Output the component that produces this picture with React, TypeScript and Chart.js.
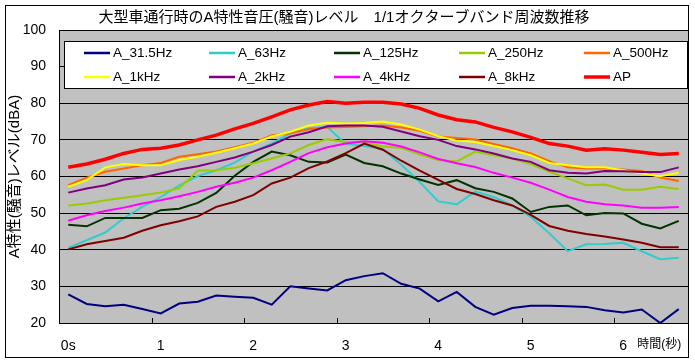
import React, { useEffect, useRef } from 'react';
import { Chart, registerables } from 'chart.js';

Chart.register(...registerables);

// ---------- data ----------
const TIMES = [
  0, 0.2, 0.4, 0.6, 0.8, 1.0, 1.2, 1.4, 1.6, 1.8,
  2.0, 2.2, 2.4, 2.6, 2.8, 3.0, 3.2, 3.4, 3.6, 3.8,
  4.0, 4.2, 4.4, 4.6, 4.8, 5.0, 5.2, 5.4, 5.6, 5.8,
  6.0, 6.2, 6.4, 6.6,
];
const X_TICK_LABELS = ['0s', '1', '2', '3', '4', '5', '6'];
const X_TICK_EVERY = 5;

const Y_MIN = 20;
const Y_MAX = 100;
const Y_STEP = 10;

const TITLE = '大型車通行時のA特性音圧(騒音)レベル　1/1オクターブバンド周波数推移';
const Y_TITLE = 'A特性(騒音)レベル(dBA)';
const X_TITLE = '時間(秒)';

const SERIES_NAMES = ['A_31.5Hz', 'A_63Hz', 'A_125Hz', 'A_250Hz', 'A_500Hz', 'A_1kHz', 'A_2kHz', 'A_4kHz', 'A_8kHz', 'AP'];

const A_31_5HZ = [27.8, 25.2, 24.6, 25.0, 23.8, 22.6, 25.3, 25.8, 27.5, 27.2, 26.9, 25.0, 30.0, 29.4, 28.9, 31.7, 32.8, 33.6, 30.7, 29.4, 25.9, 28.5, 24.4, 22.3, 24.1, 24.7, 24.7, 24.6, 24.4, 23.5, 22.9, 23.7, 20.0, 23.8];
const A_63HZ = [40.5, 42.6, 44.7, 48.6, 51.7, 54.4, 57.6, 60.1, 61.7, 63.8, 66.8, 69.0, 71.8, 73.2, 73.5, 68.9, 68.3, 67.5, 63.2, 58.5, 53.2, 52.4, 55.9, 54.4, 52.1, 49.0, 44.5, 39.6, 41.5, 41.6, 41.9, 39.6, 37.4, 37.8];
const A_125HZ = [46.8, 46.4, 48.7, 48.7, 48.7, 50.8, 51.2, 52.8, 55.5, 60.2, 64.0, 66.8, 65.8, 64.0, 63.8, 66.0, 63.7, 62.8, 60.8, 59.2, 57.7, 59.0, 56.8, 55.8, 54.0, 50.3, 51.7, 52.1, 49.4, 50.0, 49.9, 47.1, 45.8, 47.9];
const A_250HZ = [52.1, 52.6, 53.5, 54.2, 54.9, 55.6, 56.8, 61.6, 61.7, 62.4, 63.6, 64.9, 66.3, 68.6, 70.2, 69.4, 69.4, 68.2, 67.8, 66.0, 64.5, 64.1, 66.8, 65.8, 64.9, 63.4, 61.3, 59.5, 57.6, 57.8, 56.4, 56.4, 57.2, 56.6];
const A_500HZ = [57.6, 59.7, 61.3, 62.2, 63.1, 63.7, 65.4, 66.1, 66.8, 68.0, 69.2, 71.3, 71.8, 72.9, 73.4, 73.5, 73.7, 73.9, 73.4, 72.5, 70.9, 70.5, 70.1, 68.9, 67.7, 66.3, 64.2, 62.5, 62.2, 62.2, 61.9, 61.5, 59.7, 58.8];
const A_1KHZ = [57.2, 59.0, 62.5, 63.4, 63.1, 63.1, 64.5, 65.4, 66.5, 67.7, 69.0, 70.9, 72.2, 73.9, 74.7, 74.5, 74.6, 75.0, 74.2, 72.8, 71.0, 69.8, 69.4, 68.3, 67.2, 65.8, 63.7, 63.1, 62.5, 62.5, 61.7, 60.8, 60.1, 61.0];
const A_2KHZ = [55.6, 56.7, 57.6, 59.2, 59.7, 60.8, 61.9, 62.8, 64.0, 65.2, 66.8, 68.6, 70.9, 72.1, 73.7, 73.9, 73.9, 73.6, 72.3, 71.0, 70.0, 68.3, 67.4, 66.3, 64.9, 64.0, 61.7, 61.0, 60.8, 61.5, 61.4, 61.2, 61.2, 62.5];
const A_4KHZ = [47.9, 49.4, 50.6, 51.5, 52.6, 53.5, 54.6, 55.8, 57.2, 58.3, 59.7, 61.7, 64.0, 66.4, 68.0, 69.0, 69.6, 69.2, 68.2, 66.6, 64.8, 63.6, 62.6, 61.0, 59.7, 58.3, 56.4, 54.4, 53.1, 52.4, 52.1, 51.5, 51.5, 51.7];
const A_8KHZ = [40.1, 41.5, 42.4, 43.3, 45.2, 46.7, 47.8, 49.1, 51.7, 53.1, 54.9, 58.1, 59.7, 62.3, 64.1, 66.4, 69.0, 67.3, 64.3, 61.6, 59.1, 56.6, 55.2, 53.5, 52.1, 49.5, 46.5, 45.2, 44.3, 43.6, 42.8, 41.9, 40.7, 40.7];
const AP = [62.5, 63.4, 64.7, 66.3, 67.4, 67.7, 68.6, 70.0, 71.3, 73.0, 74.5, 76.3, 78.2, 79.5, 80.5, 80.0, 80.3, 80.3, 79.8, 78.6, 76.8, 75.5, 74.9, 73.4, 72.2, 70.7, 69.0, 68.3, 67.2, 67.6, 67.2, 66.6, 66.0, 66.3];

const SERIES_VALUES = [A_31_5HZ, A_63HZ, A_125HZ, A_250HZ, A_500HZ, A_1KHZ, A_2KHZ, A_4KHZ, A_8KHZ, AP];

// ---------- styles ----------
const SERIES_COLORS = ['#000080', '#33CCCC', '#003300', '#99CC00', '#FF6600', '#FFFF00', '#800080', '#FF00FF', '#800000', '#FF0000'];
const SERIES_WIDTHS = [2, 2, 2, 2, 2, 2, 2, 2, 2, 3.5];

const FONT_FAMILY = '"Liberation Sans", Arial, "Noto Sans CJK JP", sans-serif';
const PLOT_BG = '#C0C0C0';

const backgroundPlugin = {
  id: 'bgFrame',
  beforeDraw(chart: any) {
    const { ctx, chartArea: ca, width, height } = chart;
    ctx.save();
    ctx.fillStyle = '#FFFFFF';
    ctx.fillRect(0, 0, width, height);
    ctx.fillStyle = PLOT_BG;
    ctx.fillRect(ca.left, ca.top, ca.right - ca.left, ca.bottom - ca.top);
    ctx.strokeStyle = '#000000';
    ctx.lineWidth = 1;
    ctx.strokeRect(5.5, 5.5, width - 12, height - 11);
    ctx.restore();
  },
};

const innerTicksPlugin = {
  id: 'innerTicks',
  beforeDatasetsDraw(chart: any) {
    const { ctx, chartArea: ca } = chart;
    const xs = chart.scales.x;
    const half = (xs.getPixelForValue(1) - xs.getPixelForValue(0)) / 2;
    ctx.save();
    ctx.strokeStyle = '#000000';
    ctx.lineWidth = 1;
    ctx.beginPath();
    for (let i = X_TICK_EVERY; i < TIMES.length; i += X_TICK_EVERY) {
      const x = Math.round(xs.getPixelForValue(i) - half) + 0.5;
      ctx.moveTo(x, ca.bottom);
      ctx.lineTo(x, ca.bottom - 5);
    }
    ctx.stroke();
    ctx.restore();
  },
};

const boxLegendPlugin = {
  id: 'boxLegend',
  afterDatasetsDraw(chart: any) {
    const { ctx, chartArea: ca } = chart;
    const left = ca.left + 5;
    const top = ca.top + 11;
    const right = ca.right;
    const h = 48;
    ctx.save();
    ctx.fillStyle = '#FFFFFF';
    ctx.fillRect(left, top, right - left, h);
    ctx.strokeStyle = '#000000';
    ctx.lineWidth = 1;
    ctx.strokeRect(left + 0.5, top + 0.5, right - left - 1, h - 1);
    ctx.font = '13.5px ' + FONT_FAMILY;
    ctx.textBaseline = 'middle';
    ctx.textAlign = 'left';
    chart.data.datasets.forEach((ds: any, i: number) => {
      const col = i % 5;
      const row = Math.floor(i / 5);
      const x0 = left + 20 + col * 125;
      const y = top + 12 + row * 23.5;
      ctx.strokeStyle = ds.borderColor;
      ctx.lineWidth = ds.borderWidth > 2 ? 3.5 : 2.5;
      ctx.beginPath();
      ctx.moveTo(x0, Math.round(y));
      ctx.lineTo(x0 + 26, Math.round(y));
      ctx.stroke();
      ctx.fillStyle = '#000000';
      ctx.fillText(ds.label, x0 + 29, y + 0.5);
    });
    ctx.restore();
  },
};

export default function App() {
  const canvasRef = useRef<HTMLCanvasElement | null>(null);

  useEffect(() => {
    if (!canvasRef.current) return;
    Chart.defaults.color = '#000000';
    const datasets = SERIES_NAMES.map((name, i) => ({
      label: name,
      data: SERIES_VALUES[i],
      borderColor: SERIES_COLORS[i],
      backgroundColor: SERIES_COLORS[i],
      borderWidth: SERIES_WIDTHS[i],
      pointRadius: 0,
      pointHoverRadius: 0,
      tension: 0,
      fill: false,
      order: SERIES_NAMES.length - i,
    }));

    const chart = new Chart(canvasRef.current, {
      type: 'line',
      data: { labels: TIMES.map(String), datasets },
      options: {
        animation: false,
        responsive: false,
        devicePixelRatio: 1,
        layout: { padding: { left: 0, right: 7, top: 0, bottom: 0 } },
        plugins: {
          legend: { display: false },
          tooltip: { enabled: false },
          title: {
            display: true,
            text: TITLE,
            color: '#000000',
            font: { size: 15, family: FONT_FAMILY, weight: 'normal' },
            padding: { top: 8.5, bottom: 3.5 },
          },
        },
        scales: {
          x: {
            type: 'category',
            offset: true,
            grid: { display: false, drawTicks: false },
            border: { display: true, color: '#000000', width: 1 },
            ticks: {
              autoSkip: false,
              maxRotation: 0,
              minRotation: 0,
              padding: 15,
              color: '#000000',
              font: { size: 14, family: FONT_FAMILY },
              callback: (_v: any, idx: number) =>
                idx % X_TICK_EVERY === 0 ? X_TICK_LABELS[idx / X_TICK_EVERY] ?? '' : '',
            },
            title: {
              display: true,
              text: X_TITLE + '  ',
              align: 'end',
              color: '#000000',
              font: { size: 12, family: FONT_FAMILY },
              padding: { top: 0, bottom: 11 },
            },
            afterFit: (s: any) => {
              s.height = 40;
            },
          },
          y: {
            min: Y_MIN,
            max: Y_MAX,
            grid: { color: '#000000', lineWidth: 1, drawTicks: false },
            border: { display: true, color: '#000000', width: 1 },
            ticks: {
              stepSize: Y_STEP,
              padding: 13,
              color: '#000000',
              font: { size: 14, family: FONT_FAMILY },
            },
            title: {
              display: true,
              text: Y_TITLE,
              color: '#000000',
              font: { size: 15, family: FONT_FAMILY },
              padding: { top: 6, bottom: 0 },
            },
            afterFit: (s: any) => {
              s.width = 59;
            },
          },
        },
      } as any,
      plugins: [backgroundPlugin, innerTicksPlugin, boxLegendPlugin],
    });
    return () => chart.destroy();
  }, []);

  return (
    <div style={{ position: 'absolute', left: 0, top: 0, width: 695, height: 363, background: '#fff' }}>
      <canvas ref={canvasRef} width={695} height={363} style={{ display: 'block', width: 695, height: 363 }} />
    </div>
  );
}
